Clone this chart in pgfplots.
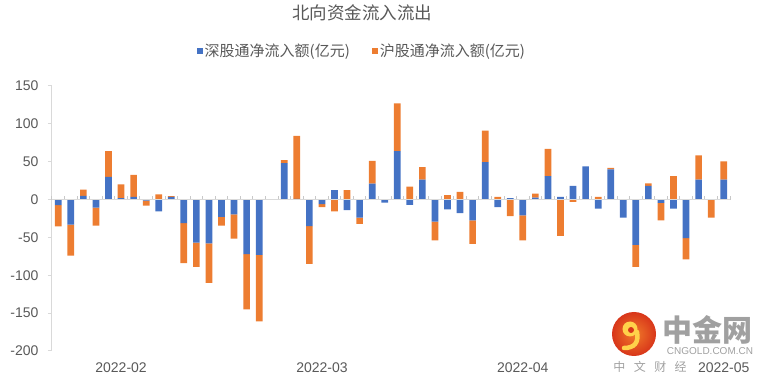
\documentclass[border=0pt]{standalone}
\usepackage{pgfplots}
\pgfplotsset{compat=1.18}
\usepackage{pgfplotstable}
\usepackage{fontspec}
\setmainfont{Liberation Sans}
\newfontfamily\cjk{Noto Sans CJK SC}
\definecolor{sblue}{HTML}{4472C4}
\definecolor{sorange}{HTML}{ED7D31}
\definecolor{txtgray}{HTML}{595959}
\definecolor{axgray}{HTML}{D9D9D9}
\definecolor{tkgray}{HTML}{C8C8C8}
\definecolor{wmgray}{HTML}{A0A0A0}
\definecolor{logored}{HTML}{D8361A}
\definecolor{logoorange}{HTML}{F07A2A}
\definecolor{logoyellow}{HTML}{FFD24A}

\pgfplotstableread{
x b o
1 -7.5 -28
2 -33 -41
3 5 8
4 -10.5 -24
5 30 34
6 2 18
7 3.5 29
8 -1.5 -6.5
9 -15.5 7
10 3.5 1
11 -31 -53
12 -57 -32
13 -58 -52
14 -23 -11.5
15 -19.5 -32
16 -72 -73
17 -73 -88
19 48 4
20 1 83
21 -35 -50
22 -6 -4
23 12.4 -15.5
24 -14 12.4
25 -24 -8
26 21 30
27 -4 0
28 64 63
29 -7 17
30 26.5 16.5
31 -29 -25
32 -13 6
33 -18 10
34 -27.5 -31
35 49.5 41.5
36 -10 3.5
37 2 -22
38 -21 -33
39 2.5 5.5
40 31 36
41 3.5 -48
42 18 -3
43 44 0
44 -12 3.5
45 40 2
46 -24 0
47 -60 -29
48 18 3.5
49 -4.5 -23
50 -12 31
51 -51 -28
52 26.5 32
53 0.3 -24
54 26.5 24
}\flows

\begin{document}
\begin{tikzpicture}
\useasboundingbox (0,0) rectangle (768bp,385bp);
\begin{axis}[
  at={(52bp,34bp)}, anchor=south west,
  scale only axis, width=678bp, height=265bp,
  xmin=0.5, xmax=54.5, ymin=-200, ymax=150,
  axis x line*=bottom, axis y line*=left,
  x axis line style={draw=none},
  y axis line style={draw=axgray, line width=1bp, -},
  xtick={6,22,38,54},
  xticklabels={2022-02,2022-03,2022-04,2022-05},
  xtick style={draw=none},
  ytick={-200,-150,-100,-50,0,50,100,150},
  yticklabels={-200,-150,-100,-50,0,50,100,150},
  ytick style={draw=axgray, line width=1bp},
  tick align=outside, major tick length=4bp,
  ticklabel style={font=\fontsize{14bp}{16bp}\selectfont, text=txtgray},
  xticklabel style={yshift=-4bp},
  yticklabel style={xshift=-6bp},
  ybar stacked, stack negative=separate, bar width=6.7bp,
  clip=false,
  legend columns=2,
  legend style={at={(0.457,1.132)}, anchor=center, draw=none, fill=none,
    font=\cjk\fontsize{15bp}{17bp}\selectfont, text=txtgray,
    /tikz/every even column/.append style={column sep=20bp}},
  legend image code/.code={\fill[#1,draw=none] (0bp,-3bp) rectangle (6bp,3bp);},
]
\draw[axgray, line width=1bp] (axis cs:0.5,0) -- (axis cs:54.5,0);
\pgfplotsinvokeforeach{0,...,54}{\draw[tkgray, line width=1bp] (axis cs:#1.5,0) -- ++(0bp,3.5bp);}
\addplot[fill=sblue, draw=none] table[x=x, y=b]{\flows};
\addlegendentry{深股通净流入额(亿元)}
\addplot[fill=sorange, draw=none] table[x=x, y=o]{\flows};
\addlegendentry{沪股通净流入额(亿元)}
\end{axis}
\node[text=txtgray, font=\cjk\fontsize{17.5bp}{20bp}\selectfont] at (362bp,372bp) {北向资金流入流出};
% watermark
\shade[inner color=logoorange, outer color=logored] (634bp,51bp) circle (22bp);
\fill[logoyellow] (630bp,56bp) circle (7.5bp);
\draw[logoyellow, line width=4.5bp, line cap=round] (637bp,53bp) .. controls (639bp,42bp) and (634bp,37bp) .. (624bp,37bp);
\fill[logored] (631bp,55bp) circle (3bp);
\node[text=wmgray, font=\cjk\bfseries\fontsize{30bp}{32bp}\selectfont, inner sep=0pt] at (707bp,55bp) {中金网};
\node[text=wmgray, font=\fontsize{10bp}{12bp}\selectfont, inner sep=0pt] at (710bp,33.5bp) {CNGOLD.COM.CN};
\node[text=wmgray, font=\cjk\fontsize{12bp}{14bp}\selectfont, inner sep=0pt] at (650bp,18bp) {中\hspace{8.5bp}文\hspace{8.5bp}财\hspace{8.5bp}经};
\end{tikzpicture}
\end{document}
